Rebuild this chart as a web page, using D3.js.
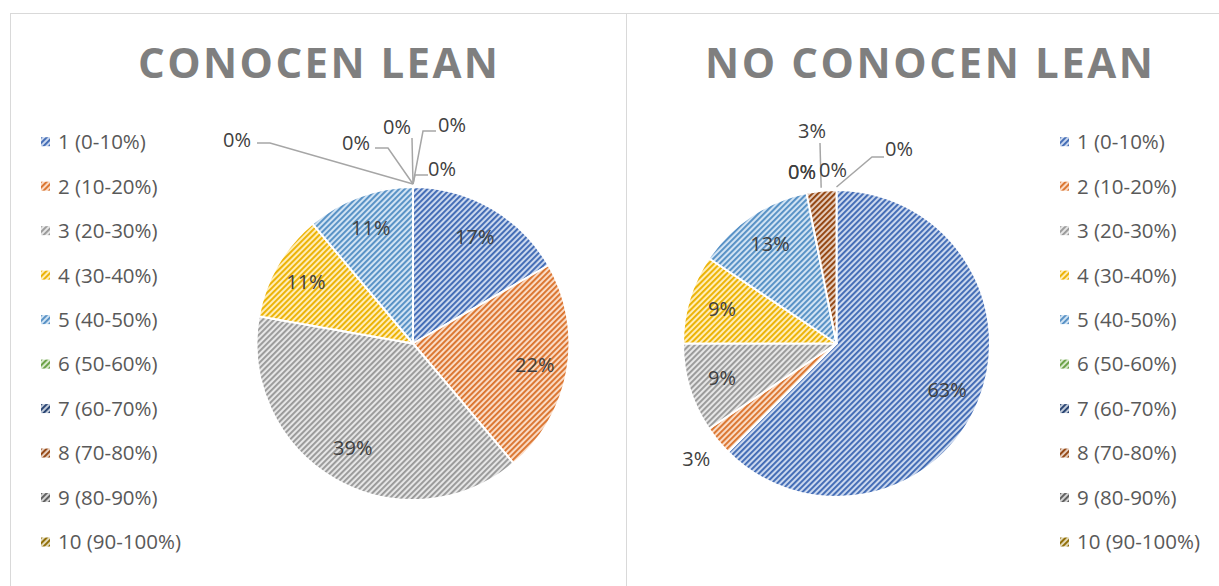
<!DOCTYPE html>
<html>
<head>
<meta charset="utf-8">
<script src="https://cdn.jsdelivr.net/npm/d3@7"></script>
<style>
  body { margin: 0; background: #fff; }
  svg { display: block; font-family: "Open Sans", "Liberation Sans", sans-serif; }
</style>
</head>
<body>
<svg width="1219" height="586"></svg>
<script>
// categories and counts (percent shown = count / total)
var categories = ["1 (0-10%)", "2 (10-20%)", "3 (20-30%)", "4 (30-40%)", "5 (40-50%)",
                  "6 (50-60%)", "7 (60-70%)", "8 (70-80%)", "9 (80-90%)", "10 (90-100%)"];
var conocen   = [3, 4, 7, 2, 2, 0, 0, 0, 0, 0];
var noConocen = [20, 1, 3, 3, 4, 0, 0, 1, 0, 0];
var titles = ["CONOCEN LEAN", "NO CONOCEN LEAN"];
var colors = ["#4472C4", "#ED7D31", "#A5A5A5", "#FFC000", "#5B9BD5",
              "#70AD47", "#264478", "#9E480E", "#636363", "#997300"];

var svg = d3.select("svg");

// panel frames
var panels = [
  { x: 10, w: 616, cx: 413, r: 156.5, legendX: 41, titleW: 360, values: conocen, labelK: 0.79 },
  { x: 626, w: 606, cx: 836.5, r: 153.5, legendX: 1060, titleW: 448, values: noConocen, labelK: 0.78 }
];
var cy = 343.5;

// hand placed labels for the thin slices (offsets from pie centre, like Excel's dragged labels)
var manualLabels = [
  { // left
    2: { k: 0.77 },
    5: { l: [29, -174.5], pts: [[15, -168.5], [2, -168.5]] },
    6: { l: [39, -218.5], pts: [[23, -212.5], [10, -212.5]] },
    7: { l: [-16, -216.5], pts: [[-1, -205.5]] },
    8: { l: [-57, -200.5], pts: [[-38, -195.5], [-25, -195.5]] },
    9: { l: [-176, -204], pts: [[-156, -200.5], [-143, -200.5]] }
  },
  { // right
    1: { outside: 28 },
    5: { l: [-34.5, -171.5] },
    6: { l: [-34.5, -171.5] },
    7: { l: [-24.5, -212.5], pts: [[-16.5, -200.5]] },
    8: { l: [-3.5, -173.5] },
    9: { l: [62.5, -194.5], pts: [[47.5, -186.5], [35.5, -186.5]] }
  }
];

// hatch patterns (wide upward diagonal)
var defs = svg.append("defs");
colors.forEach(function (c, i) {
  var p = defs.append("pattern")
      .attr("id", "pat" + i)
      .attr("patternUnits", "userSpaceOnUse")
      .attr("width", 4).attr("height", 4)
      .attr("patternTransform", "rotate(45)");
  p.append("rect").attr("width", 4).attr("height", 4)
      .attr("fill", d3.interpolateRgb(c, "#fff")(0.72));
  p.append("rect").attr("width", 1.9).attr("height", 4)
      .attr("fill", d3.interpolateRgb(c, "#000")(0.08));
});

svg.append("rect").attr("x", 10.5).attr("y", 13.5).attr("width", 616).attr("height", 600)
    .attr("fill", "none").attr("stroke", "#d9d9d9");
svg.append("rect").attr("x", 626.5).attr("y", 13.5).attr("width", 606).attr("height", 600)
    .attr("fill", "none").attr("stroke", "#d9d9d9");

var pie = d3.pie().sort(null).value(function (d) { return d; });
var fmt = d3.format(".0%");

panels.forEach(function (pn, k) {
  var g = svg.append("g");
  var total = d3.sum(pn.values);

  g.append("text")
      .attr("x", pn.x + pn.w / 2).attr("y", 78)
      .attr("text-anchor", "middle")
      .attr("font-size", 42).attr("font-weight", 700)
      .attr("fill", "#7f7f7f")
      .attr("textLength", pn.titleW).attr("lengthAdjust", "spacing")
      .text(titles[k]);

  var arcs = pie(pn.values);
  var arc = d3.arc().innerRadius(0).outerRadius(pn.r);
  var pieG = g.append("g").attr("transform", "translate(" + pn.cx + "," + cy + ")");

  pieG.selectAll("path")
      .data(arcs.filter(function (d) { return d.value > 0; }))
      .enter().append("path")
      .attr("d", arc)
      .attr("fill", function (d) { return "url(#pat" + d.index + ")"; })
      .attr("stroke", "#fff")
      .attr("stroke-width", 2)
      .attr("stroke-linejoin", "round");

  // labels
  arcs.forEach(function (d) {
    var man = manualLabels[k][d.index];
    var mid = (d.startAngle + d.endAngle) / 2;
    var pos;
    if (man && man.l) {
      pos = man.l;
      if (man.pts) {
        var a = [Math.sin(mid) * (pn.r + 3), -Math.cos(mid) * (pn.r + 3)];
        pieG.append("path")
            .attr("d", d3.line()([a].concat(man.pts.slice().reverse())))
            .attr("fill", "none").attr("stroke", "#a6a6a6").attr("stroke-width", 1.5);
      }
    } else {
      var rr = man && man.outside ? pn.r + man.outside : pn.r * (man && man.k ? man.k : pn.labelK);
      pos = [Math.sin(mid) * rr, -Math.cos(mid) * rr];
    }
    pieG.append("text")
        .attr("x", pos[0]).attr("y", pos[1])
        .attr("dy", "0.36em")
        .attr("text-anchor", "middle")
        .attr("font-size", 20).attr("fill", "#404040")
        .text(fmt(d.value / total));
  });

  // legend
  var ly = d3.scalePoint().domain(categories).range([141.7, 542]);
  var leg = g.selectAll(".leg").data(categories).enter().append("g")
      .attr("transform", function (c) { return "translate(" + pn.legendX + "," + ly(c) + ")"; });
  leg.append("rect").attr("x", 0).attr("y", -4.5).attr("width", 9).attr("height", 9)
      .attr("fill", function (c, i) { return "url(#pat" + i + ")"; });
  leg.append("text").attr("x", 17).attr("dy", "0.36em")
      .attr("font-size", 20.5).attr("fill", "#595959")
      .text(function (c) { return c; });
});
</script>
</body>
</html>
